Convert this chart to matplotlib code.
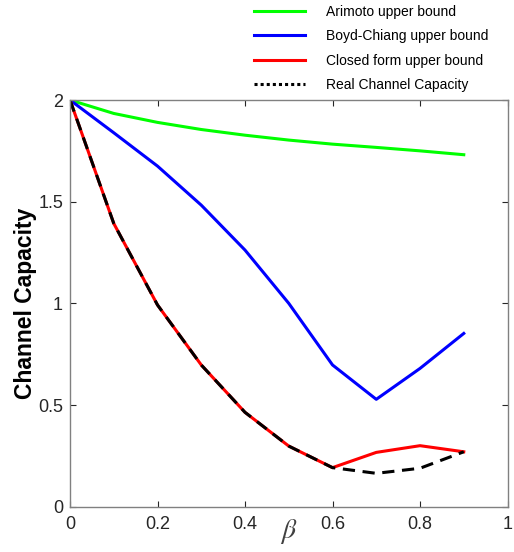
import matplotlib
matplotlib.use("Agg")
import matplotlib.pyplot as plt
from matplotlib.lines import Line2D

beta = [0.0, 0.1, 0.2, 0.3, 0.4, 0.5, 0.6, 0.7, 0.8, 0.9]
arimoto = [2.0, 1.934, 1.890, 1.855, 1.827, 1.803, 1.783, 1.767, 1.750, 1.731]
boyd_chiang = [2.0, 1.839, 1.675, 1.483, 1.262, 1.000, 0.697, 0.528, 0.680, 0.852]
closed_form = [2.0, 1.393, 0.992, 0.697, 0.464, 0.298, 0.192, 0.267, 0.300, 0.270]
real_capacity = [2.0, 1.393, 0.992, 0.697, 0.464, 0.298, 0.192, 0.164, 0.189, 0.270]

labels = ["Arimoto upper bound", "Boyd-Chiang upper bound",
          "Closed form upper bound", "Real Channel Capacity"]
xticks = [0, 0.2, 0.4, 0.6, 0.8, 1]
xticklabels = ["0", "0.2", "0.4", "0.6", "0.8", "1"]
yticks = [0, 0.5, 1, 1.5, 2]
yticklabels = ["0", "0.5", "1", "1.5", "2"]

plt.rcParams['font.family'] = ['Liberation Sans', 'DejaVu Sans']
plt.rcParams['mathtext.fontset'] = 'stix'

fig = plt.figure(figsize=(5.14, 5.52), dpi=100)
ax = fig.add_axes([0.1362, 0.0821, 0.8512, 0.7367])

ax.plot(beta, arimoto, color='#00ff00', lw=2.2)
ax.plot(beta, boyd_chiang, color='#0000ff', lw=2.2)
ax.plot(beta, closed_form, color='#ff0000', lw=2.2)
ax.plot(beta, real_capacity, color='black', lw=2.2, linestyle=(0, (4, 2.5)))

ax.set_xlim(0, 1)
ax.set_ylim(0, 2)
ax.set_xticks(xticks)
ax.set_xticklabels(xticklabels)
ax.set_yticks(yticks)
ax.set_yticklabels(yticklabels)
ax.tick_params(direction='in', top=True, right=True, labelsize=13,
               colors='#262626', length=4, width=0.8)
ax.tick_params(axis='x', pad=7)
ax.tick_params(axis='y', pad=5)
for s in ax.spines.values():
    s.set_color('#808080')
    s.set_linewidth(1.0)

ax.set_ylabel("Channel Capacity", fontsize=16.5, fontweight='bold', labelpad=1)
ax.set_xlabel(r"$\beta$", fontsize=20, color='#404040', labelpad=-12)

handles = [Line2D([], [], color='#00ff00', lw=2.2),
           Line2D([], [], color='#0000ff', lw=2.2),
           Line2D([], [], color='#ff0000', lw=2.2),
           Line2D([], [], color='black', lw=2.2, linestyle=(0, (1, 1)))]
fig.legend(handles, labels, loc='upper left', bbox_to_anchor=(0.47, 1.014),
           frameon=False, fontsize=10, handlelength=3.7, handletextpad=1.5,
           labelspacing=0.75)

fig.savefig("out.png", dpi=100)
